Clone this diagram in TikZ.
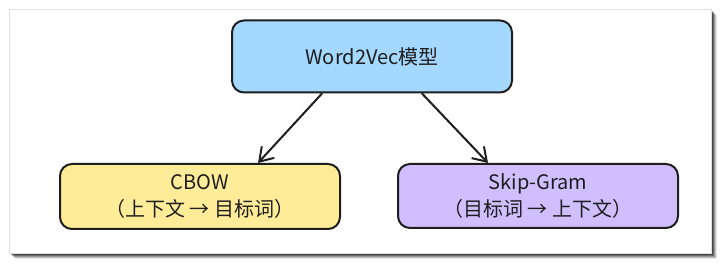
\documentclass[tikz,border=0pt]{standalone}
\usepackage{fontspec}
\setmainfont{Noto Sans CJK SC}
\usepackage{xcolor}
\usetikzlibrary{arrows.meta,positioning,calc}
\definecolor{inkblack}{HTML}{1E1E1E}
\definecolor{modelblue}{HTML}{A5D8FF}
\definecolor{cbowyellow}{HTML}{FFEC99}
\definecolor{skipviolet}{HTML}{D0BFFF}

\begin{document}
\begin{tikzpicture}[
  x=1pt, y=-1pt, font=\fontsize{20}{27}\selectfont,
  >={Straight Barb[length=13pt, width=17pt, line width=2pt]},
  box/.style={draw=inkblack, line width=2pt, rounded corners=12pt, align=center,
              minimum width=280pt, text=inkblack},
  link/.style={->, draw=inkblack, line width=2pt, line cap=round}]
\useasboundingbox (0,0) rectangle (721,264);
% frame with soft shadow
\foreach \d/\o in {6/0.1, 5/0.15, 4/0.22, 3/0.3, 2/0.35}
  \fill[black, opacity=\o] (9+\d,9+\d) rectangle (711+\d,253+\d);
\fill[white, draw=black!12, line width=0.6pt] (9,9) rectangle (711,253);
% boxes
\node[box, fill=modelblue, minimum height=72pt] (model) at (372,56.5) {Word2Vec模型};
\node[box, fill=cbowyellow, minimum height=65pt] (cbow) at (200,196.5) {CBOW\\（上下文 → 目标词）};
\node[box, fill=skipviolet, minimum height=64pt] (skip) at (538,196) {Skip-Gram\\（目标词 → 上下文）};
% arrows
\draw[link] ([xshift=-50pt]model.south) -- ([xshift=58pt]cbow.north);
\draw[link] ([xshift=50pt]model.south) -- ([xshift=-50pt]skip.north);
\end{tikzpicture}
\end{document}
